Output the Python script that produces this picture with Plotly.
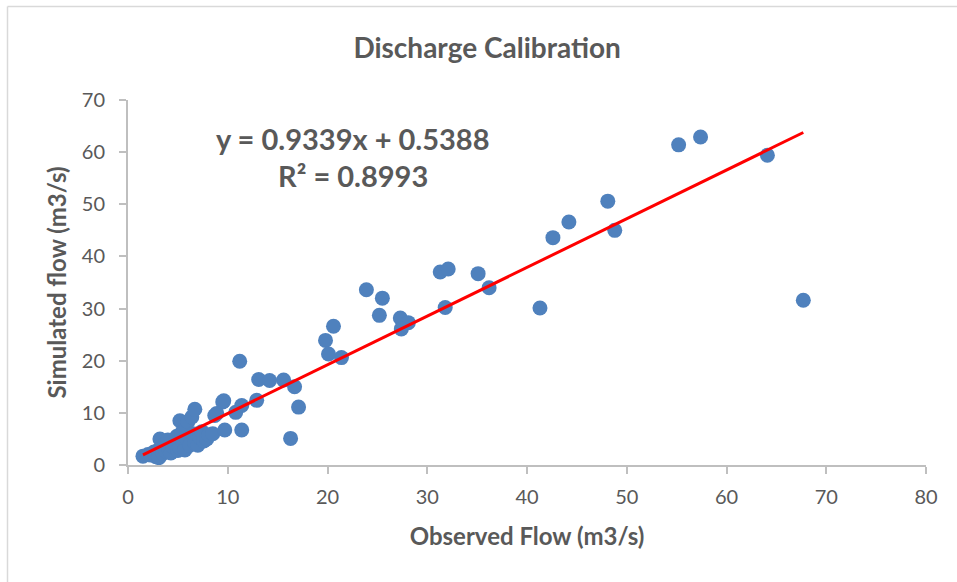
import plotly.graph_objects as go

# Observed (x) vs simulated (y) discharge, m3/s
observed = [
    1.5, 2.0, 2.3, 2.6, 2.8, 3.0, 3.1, 3.2, 3.4, 3.5, 3.7, 3.8, 4.0, 4.1, 4.3,
    4.5, 4.7, 4.9, 5.0, 5.2, 5.2, 5.4, 5.5, 5.7, 5.9, 6.0, 6.2, 6.4, 6.5, 6.7,
    6.7, 7.0, 7.2, 7.4, 7.6, 7.9, 8.1, 8.5, 8.7, 8.9, 9.5, 9.7, 9.6,
    10.8, 11.2, 11.4, 11.4, 12.9, 13.1, 14.2, 15.6, 16.7, 17.1, 16.3,
    19.8, 20.6, 20.1, 21.4, 23.9, 25.5, 25.2, 27.3, 28.1, 27.4,
    31.3, 32.1, 31.8, 35.1, 36.2, 41.3, 42.6, 44.2, 48.1, 48.8,
    55.2, 57.4, 64.1, 67.7,
]
simulated = [
    1.7, 2.0, 1.9, 2.5, 1.6, 2.8, 1.4, 5.0, 3.2, 2.2, 4.0, 2.7, 4.8, 3.0, 2.3,
    3.5, 4.2, 5.5, 2.8, 8.5, 3.3, 6.2, 4.5, 2.9, 5.0, 8.3, 3.8, 9.2, 6.0, 10.7,
    4.2, 3.8, 5.3, 6.4, 4.6, 5.0, 5.8, 6.0, 9.5, 9.9, 12.1, 6.7, 12.3,
    10.1, 19.9, 11.4, 6.7, 12.4, 16.4, 16.2, 16.3, 15.0, 11.1, 5.1,
    23.9, 26.6, 21.3, 20.6, 33.6, 32.0, 28.7, 28.2, 27.3, 26.1,
    37.0, 37.6, 30.2, 36.7, 34.0, 30.1, 43.6, 46.6, 50.6, 45.0,
    61.4, 62.9, 59.4, 31.6,
]

slope = 0.9339
intercept = 0.5388
r_squared = 0.8993

x_ticks = [0, 10, 20, 30, 40, 50, 60, 70, 80]
y_ticks = [0, 10, 20, 30, 40, 50, 60, 70]

trend_x = [min(observed), max(observed)]
trend_y = [slope * v + intercept for v in trend_x]

grey = "#595959"
axis_col = "#bfbfbf"
font_fam = "Lato, 'Open Sans', sans-serif"

fig = go.Figure()
fig.add_trace(go.Scatter(
    x=observed, y=simulated, mode="markers",
    marker=dict(size=15, color="#4f81bd", line=dict(width=0)),
    showlegend=False, hoverinfo="x+y",
))
fig.add_trace(go.Scatter(
    x=trend_x, y=trend_y, mode="lines",
    line=dict(color="#ff0000", width=3),
    showlegend=False, hoverinfo="skip",
))

fig.update_layout(
    width=957, height=582,
    margin=dict(l=128, r=31, t=100, b=117),
    paper_bgcolor="white", plot_bgcolor="white",
    font=dict(family=font_fam, color=grey, size=20),
    title=dict(text="<b>Discharge Calibration</b>", x=0.509, xanchor="center",
               y=0.917, yanchor="middle",
               font=dict(size=28, color=grey, family=font_fam)),
    xaxis=dict(
        range=[0, 80], tickvals=x_ticks, showgrid=False, zeroline=False,
        showline=True, linecolor=axis_col, linewidth=2,
        ticks="outside", ticklen=7, tickcolor=axis_col, tickwidth=2,
        tickfont=dict(size=20, color=grey), ticklabelstandoff=6,
        title=dict(text="<b>Observed Flow (m3/s)</b>", standoff=21,
                   font=dict(size=24, color=grey)),
    ),
    yaxis=dict(
        range=[0, 70], tickvals=y_ticks, showgrid=False, zeroline=False,
        showline=True, linecolor=axis_col, linewidth=2,
        ticks="outside", ticklen=7, tickcolor=axis_col, tickwidth=2,
        tickfont=dict(size=20, color=grey), ticklabelstandoff=10,
        title=dict(text="<b>Simulated flow (m3/s)</b>", standoff=8,
                   font=dict(size=24, color=grey)),
    ),
    annotations=[
        dict(text=f"<b>y = {slope}x + {intercept}</b>", xref="paper", yref="paper",
             x=(353 - 128) / 798, y=(465 - 138) / 365, showarrow=False,
             xanchor="center", yanchor="middle",
             font=dict(size=29, color=grey, family=font_fam)),
        dict(text=f"<b>R² = {r_squared}</b>", xref="paper", yref="paper",
             x=(353 - 128) / 798, y=(465 - 175) / 365, showarrow=False,
             xanchor="center", yanchor="middle",
             font=dict(size=29, color=grey, family=font_fam)),
    ],
    shapes=[
        dict(type="line", xref="paper", yref="paper",
             x0=(7.5 - 128) / 798, x1=(960 - 128) / 798,
             y0=(465 - 6.5) / 365, y1=(465 - 6.5) / 365,
             line=dict(color="#d9d9d9", width=1.5)),
        dict(type="line", xref="paper", yref="paper",
             x0=(7.5 - 128) / 798, x1=(7.5 - 128) / 798,
             y0=(465 - 6.5) / 365, y1=(465 - 590) / 365,
             line=dict(color="#d9d9d9", width=1.5)),
    ],
)

fig.write_html("out.html")
